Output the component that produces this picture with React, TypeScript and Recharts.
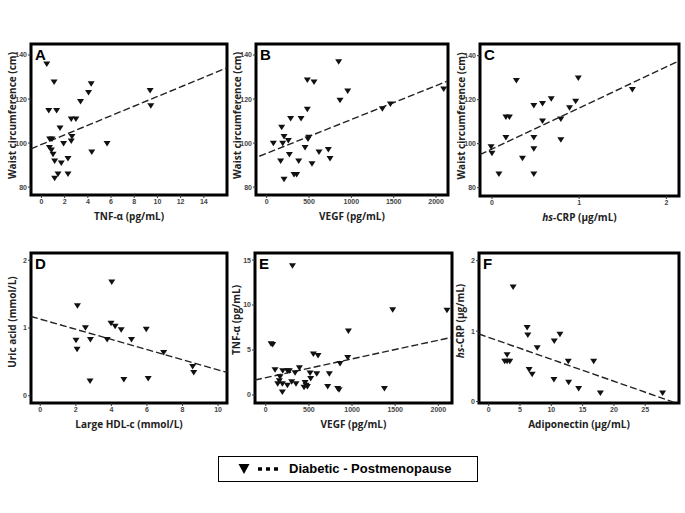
import React from "react"
import { ScatterChart, Scatter, XAxis, YAxis, ReferenceLine, ReferenceArea } from "recharts"

// A: waist vs TNF-a
const waistTnf = [
  { x: 0.46, y: 135.8 }, { x: 1.09, y: 127.7 }, { x: 0.63, y: 114.7 }, { x: 1.31, y: 114.7 },
  { x: 4.29, y: 126.8 }, { x: 4.06, y: 122.9 }, { x: 3.37, y: 118.8 }, { x: 2.57, y: 110.8 },
  { x: 2.97, y: 110.8 }, { x: 1.6, y: 106.8 }, { x: 0.71, y: 101.8 }, { x: 0.91, y: 101.8 },
  { x: 2.63, y: 102.9 }, { x: 2.57, y: 100.8 }, { x: 1.91, y: 99.7 }, { x: 5.66, y: 99.7 },
  { x: 0.69, y: 97.9 }, { x: 0.86, y: 96.8 }, { x: 1.0, y: 94.8 }, { x: 4.34, y: 95.8 },
  { x: 1.14, y: 91.8 }, { x: 1.71, y: 90.8 }, { x: 2.29, y: 92.9 }, { x: 1.43, y: 85.9 },
  { x: 2.29, y: 85.9 }, { x: 1.14, y: 83.9 }, { x: 9.37, y: 123.8 }, { x: 9.43, y: 116.8 },
]
const fitA = [{ x: -0.9, y: 97.4 }, { x: 16, y: 134.2 }]

// B: waist vs VEGF
const waistVegf = [
  { x: 850, y: 136.8 }, { x: 480, y: 128.6 }, { x: 559, y: 127.6 }, { x: 957, y: 123.6 },
  { x: 866, y: 119.4 }, { x: 480, y: 115.3 }, { x: 283, y: 111.1 }, { x: 406, y: 111.1 },
  { x: 177, y: 107.1 }, { x: 205, y: 102.9 }, { x: 256, y: 101.1 }, { x: 79, y: 99.8 },
  { x: 189, y: 99.8 }, { x: 488, y: 101.8 }, { x: 496, y: 102.6 }, { x: 453, y: 97.9 },
  { x: 728, y: 97.0 }, { x: 618, y: 95.8 }, { x: 268, y: 94.7 }, { x: 165, y: 91.7 },
  { x: 378, y: 91.7 }, { x: 748, y: 92.9 }, { x: 535, y: 90.5 }, { x: 323, y: 85.6 },
  { x: 354, y: 85.6 }, { x: 205, y: 83.5 }, { x: 1366, y: 115.5 }, { x: 1461, y: 117.6 },
  { x: 2090, y: 124.5 },
]
const fitB = [{ x: -87, y: 94.0 }, { x: 2126, y: 128.0 }]

// C: waist vs hs-CRP
const waistCrp = [
  { x: 0.28, y: 128.6 }, { x: 0.99, y: 129.7 }, { x: 0.68, y: 120.3 }, { x: 0.58, y: 118.2 },
  { x: 0.48, y: 117.3 }, { x: 0.96, y: 119.2 }, { x: 0.89, y: 116.2 }, { x: 1.61, y: 124.5 },
  { x: 0.16, y: 112.0 }, { x: 0.2, y: 112.0 }, { x: 0.58, y: 110.2 }, { x: 0.79, y: 111.1 },
  { x: 0.16, y: 102.7 }, { x: 0.48, y: 102.7 }, { x: 0.79, y: 101.7 }, { x: -0.01, y: 98.5 },
  { x: 0.0, y: 95.5 }, { x: 0.48, y: 97.6 }, { x: 0.35, y: 93.3 }, { x: 0.08, y: 86.1 },
  { x: 0.48, y: 86.1 },
]
const fitC = [{ x: -0.137, y: 95.0 }, { x: 2.145, y: 137.6 }]

// D: uric acid vs large HDL-c
const uricHdl = [
  { x: 4.02, y: 1.676 }, { x: 2.09, y: 1.327 }, { x: 2.54, y: 1.0 }, { x: 3.98, y: 1.066 },
  { x: 4.21, y: 1.022 }, { x: 4.55, y: 0.973 }, { x: 5.96, y: 0.978 }, { x: 2.01, y: 0.816 },
  { x: 2.82, y: 0.826 }, { x: 3.76, y: 0.826 }, { x: 5.13, y: 0.826 }, { x: 2.07, y: 0.683 },
  { x: 6.94, y: 0.634 }, { x: 8.57, y: 0.428 }, { x: 8.63, y: 0.339 }, { x: 2.8, y: 0.216 },
  { x: 4.7, y: 0.236 }, { x: 6.07, y: 0.251 },
]
const fitD = [{ x: -0.52, y: 1.17 }, { x: 10.5, y: 0.344 }]

// E: TNF-a vs VEGF
const tnfVegf = [
  { x: 310, y: 14.33 }, { x: 62, y: 5.67 }, { x: 81, y: 5.6 }, { x: 958, y: 7.1 },
  { x: 1471, y: 9.44 }, { x: 2100, y: 9.4 }, { x: 552, y: 4.52 }, { x: 606, y: 4.37 },
  { x: 950, y: 4.15 }, { x: 861, y: 3.48 }, { x: 108, y: 2.78 }, { x: 197, y: 2.67 },
  { x: 251, y: 2.67 }, { x: 274, y: 2.67 }, { x: 390, y: 3.0 }, { x: 340, y: 2.44 },
  { x: 514, y: 2.41 }, { x: 591, y: 2.33 }, { x: 737, y: 2.33 }, { x: 166, y: 2.0 },
  { x: 521, y: 1.81 }, { x: 158, y: 1.56 }, { x: 301, y: 1.44 }, { x: 139, y: 1.22 },
  { x: 193, y: 1.22 }, { x: 251, y: 1.07 }, { x: 351, y: 1.22 }, { x: 456, y: 1.37 },
  { x: 467, y: 1.07 }, { x: 483, y: 0.93 }, { x: 444, y: 0.85 }, { x: 718, y: 0.93 },
  { x: 834, y: 0.7 }, { x: 850, y: 0.56 }, { x: 193, y: 0.3 }, { x: 1375, y: 0.7 },
]
const fitE = [{ x: -124, y: 1.67 }, { x: 2154, y: 6.41 }]

// F: hs-CRP vs adiponectin
const crpAdipo = [
  { x: 3.9, y: 1.624 }, { x: 6.14, y: 1.049 }, { x: 6.25, y: 0.941 }, { x: 11.38, y: 0.955 },
  { x: 10.47, y: 0.856 }, { x: 7.75, y: 0.762 }, { x: 2.94, y: 0.664 }, { x: 2.56, y: 0.569 },
  { x: 2.94, y: 0.569 }, { x: 3.37, y: 0.569 }, { x: 12.71, y: 0.569 }, { x: 16.77, y: 0.569 },
  { x: 6.46, y: 0.452 }, { x: 6.94, y: 0.386 }, { x: 10.42, y: 0.311 }, { x: 12.77, y: 0.273 },
  { x: 14.37, y: 0.184 }, { x: 17.84, y: 0.118 }, { x: 27.78, y: 0.118 },
]
const fitF = [{ x: -1.55, y: 0.96 }, { x: 29.6, y: -0.01 }]

const waistTicks = [80, 100, 120, 140]
const titleFont = "'Open Sans', 'Liberation Sans', sans-serif"

const Tri = (p: any) => {
  const { cx, cy } = p
  if (cx == null || cy == null) return null
  return <polygon points={`${cx - 3.5},${cy - 2.7} ${cx + 3.5},${cy - 2.7} ${cx},${cy + 2.8}`} fill="#111" />
}

function Title({ text }: { text: string }) {
  if (text.startsWith("hs-")) {
    return (
      <>
        <tspan fontStyle="italic">hs</tspan>
        <tspan>{text.slice(2)}</tspan>
      </>
    )
  }
  return <>{text}</>
}

function Panel(props: any) {
  const { box, letter, data, fit, xDomain, yDomain, xTicks, yTicks, xTitle, yTitle, yShift = 0 } = props
  const W = box.r - box.l + 31 + 8
  const H = box.b - box.t + 4 + 32
  const tick = { fontSize: 7, fontWeight: 700, fill: "#444", fontFamily: "'Liberation Sans', Arial, sans-serif" }
  return (
    <div style={{ position: "absolute", left: box.l - 31, top: box.t - 4, width: W, height: H }}>
      <ScatterChart width={W} height={H} margin={{ top: 4, right: 8, bottom: 0, left: 0 }}>
        <XAxis
          type="number" dataKey="x" domain={xDomain} ticks={xTicks} allowDataOverflow interval={0}
          axisLine={false} tickSize={3} tickMargin={1} tickLine={{ stroke: "#333" }} tick={tick} height={32}
          label={{
            content: (lp: any) => {
              const vb = lp.viewBox
              return (
                <text x={vb.x + vb.width / 2} y={vb.y + 25} textAnchor="middle" fontSize={10} fontWeight={700}
                  fontFamily={titleFont} fill="#222">
                  <Title text={xTitle} />
                </text>
              )
            },
          }}
        />
        <YAxis
          type="number" dataKey="y" domain={yDomain} ticks={yTicks} allowDataOverflow interval={0}
          axisLine={false} tickSize={3} tickMargin={1} tickLine={{ stroke: "#333" }} tick={tick} width={31}
          label={{
            content: (lp: any) => {
              const vb = lp.viewBox
              const cy = vb.y + vb.height / 2 + yShift
              return (
                <text transform={`translate(${vb.x + 12},${cy}) rotate(-90)`} textAnchor="middle" dy="0.35em"
                  fontSize={10} fontWeight={700} fontFamily={titleFont} fill="#222">
                  <Title text={yTitle} />
                </text>
              )
            },
          }}
        />
        <Scatter data={data} shape={Tri} isAnimationActive={false} />
        <ReferenceLine segment={fit} stroke="#222" strokeWidth={1.4} strokeDasharray="7 3" ifOverflow="visible" />
        <ReferenceArea x1={xDomain[0]} x2={xDomain[1]} y1={yDomain[0]} y2={yDomain[1]} fill="none"
          stroke="#000" strokeWidth={3} ifOverflow="visible" />
      </ScatterChart>
      <div style={{ position: "absolute", left: 35, top: 7, fontFamily: "'Liberation Sans', Arial, sans-serif",
        fontWeight: 700, fontSize: 15, lineHeight: "15px", color: "#000" }}>{letter}</div>
    </div>
  )
}

export default function App() {
  return (
    <div style={{ position: "absolute", left: 0, top: 0, width: 685, height: 513, background: "#fff", overflow: "hidden" }}>
      <Panel box={{ l: 31, t: 44, r: 227, b: 195 }} letter="A" data={waistTnf} fit={fitA}
        xDomain={[-0.9, 16]} yDomain={[76.4, 145]} xTicks={[0, 2, 4, 6, 8, 10, 12, 14]} yTicks={waistTicks}
        xTitle="TNF-α (pg/mL)" yTitle="Waist circumference (cm)" yShift={-4} />
      <Panel box={{ l: 256, t: 44, r: 448, b: 195 }} letter="B" data={waistVegf} fit={fitB}
        xDomain={[-126, 2141]} yDomain={[76.4, 145]} xTicks={[0, 500, 1000, 1500, 2000]} yTicks={waistTicks}
        xTitle="VEGF (pg/mL)" yTitle="Waist circumference (cm)" yShift={-4} />
      <Panel box={{ l: 480, t: 44, r: 679, b: 196 }} letter="C" data={waistCrp} fit={fitC}
        xDomain={[-0.137, 2.145]} yDomain={[76.2, 145.3]} xTicks={[0, 1, 2]} yTicks={waistTicks}
        xTitle="hs-CRP (μg/mL)" yTitle="Waist circumference (cm)" yShift={-4} />
      <Panel box={{ l: 31, t: 253, r: 227, b: 403 }} letter="D" data={uricHdl} fit={fitD}
        xDomain={[-0.52, 10.5]} yDomain={[-0.107, 2.107]} xTicks={[0, 2, 4, 6, 8, 10]} yTicks={[0, 1, 2]}
        xTitle="Large HDL-c (mmol/L)" yTitle="Uric acid (mmol/L)" yShift={-6} />
      <Panel box={{ l: 255, t: 253, r: 452, b: 403 }} letter="E" data={tnfVegf} fit={fitE}
        xDomain={[-124, 2158]} yDomain={[-0.89, 15.78]} xTicks={[0, 500, 1000, 1500, 2000]} yTicks={[0, 5, 10, 15]}
        xTitle="VEGF (pg/mL)" yTitle="TNF-α (pg/mL)" yShift={-8} />
      <Panel box={{ l: 479, t: 253, r: 679, b: 403 }} letter="F" data={crpAdipo} fit={fitF}
        xDomain={[-1.55, 30.4]} yDomain={[-0.02, 2.11]} xTicks={[0, 5, 10, 15, 20, 25]} yTicks={[0, 1, 2]}
        xTitle="Adiponectin (μg/mL)" yTitle="hs-CRP (μg/mL)" yShift={-7} />
      <div style={{ position: "absolute", left: 218, top: 456, width: 260, height: 26, boxSizing: "border-box",
        border: "1.5px solid #000", fontFamily: "'Liberation Sans', Arial, sans-serif" }}>
        <svg width={70} height={23} style={{ position: "absolute", left: 0, top: 0 }}>
          <polygon points="19.5,7 30.5,7 25,17" fill="#000" />
          <line x1={39} y1={12} x2={60} y2={12} stroke="#000" strokeWidth={3.5} strokeDasharray="4 4" />
        </svg>
        <div style={{ position: "absolute", left: 70, top: 4, fontSize: 13, fontWeight: 700, lineHeight: "15px" }}>
          Diabetic - Postmenopause
        </div>
      </div>
    </div>
  )
}
